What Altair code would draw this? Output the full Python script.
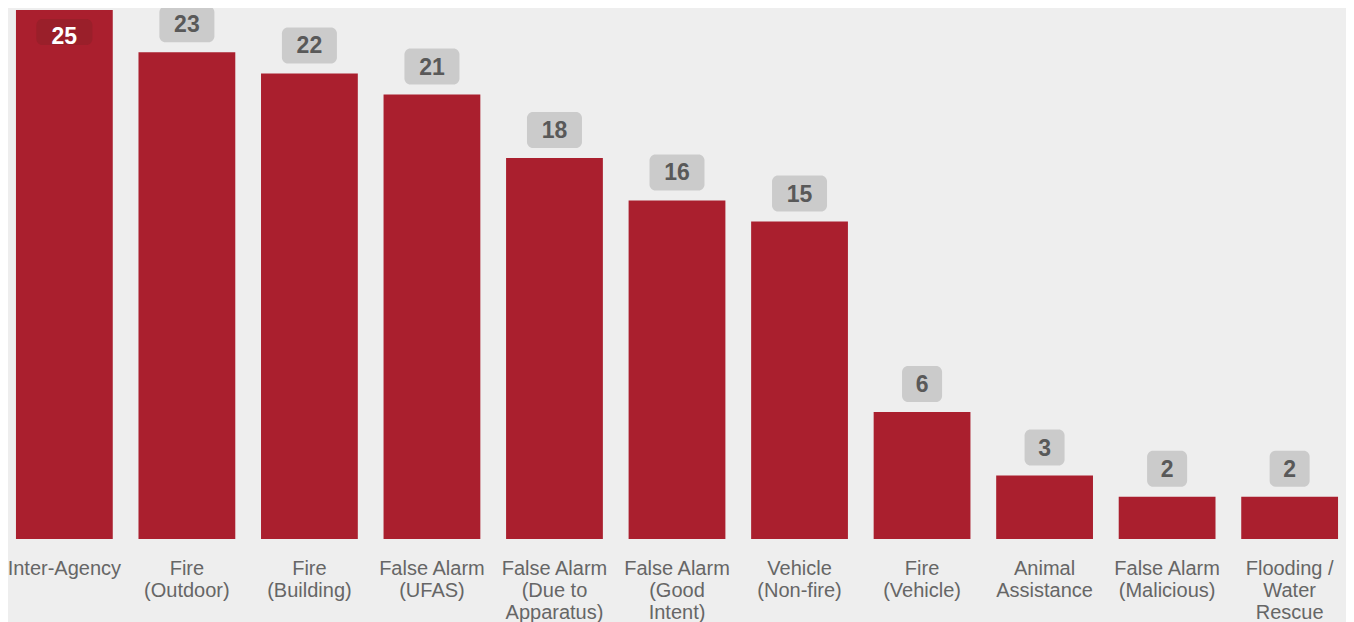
import altair as alt
import pandas as pd

categories = ["Inter-Agency", "Fire|(Outdoor)", "Fire|(Building)", "False Alarm|(UFAS)",
              "False Alarm|(Due to|Apparatus)", "False Alarm|(Good|Intent)", "Vehicle|(Non-fire)",
              "Fire|(Vehicle)", "Animal|Assistance", "False Alarm|(Malicious)", "Flooding /|Water|Rescue"]
values = [25, 23, 22, 21, 18, 16, 15, 6, 3, 2, 2]

df = pd.DataFrame({"cat": categories, "value": values, "idx": list(range(len(values)))})

FONT = "Liberation Sans"
x = alt.X("cat:N", sort=categories, title=None,
          scale=alt.Scale(paddingInner=0.21, paddingOuter=0.065),
          axis=alt.Axis(labelAngle=0, labelExpr="split(datum.label, '|')", labelFont=FONT,
                        labelFontSize=20, labelColor="#666666", labelLineHeight=22,
                        labelPadding=19, ticks=False, domain=False, labelBaseline="top"))
y = alt.Y("value:Q", title=None, scale=alt.Scale(domain=[0, 25.09], nice=False), axis=None)

base = alt.Chart(df)
bars = base.mark_bar(color="#aa1f2e").encode(x=x, y=y)

rest = base.transform_filter("datum.idx > 0")
two = rest.transform_filter("datum.value >= 10")
one = rest.transform_filter("datum.value < 10")
box2 = two.mark_rect(width=55, height=36, yOffset=-28, cornerRadius=6, color="#cbcbcb").encode(x=x, y=y)
box1 = one.mark_rect(width=40, height=36, yOffset=-28, cornerRadius=6, color="#cbcbcb").encode(x=x, y=y)
txt = rest.mark_text(font=FONT, fontSize=23, fontWeight="bold", color="#595959", baseline="middle", dy=-27).encode(
    x=x, y=y, text="value:Q")

first = base.transform_filter("datum.idx == 0")
fbox = first.mark_rect(width=56, height=26, yOffset=22, cornerRadius=6, color="#9a1f2a").encode(x=x, y=y)
ftxt = first.mark_text(font=FONT, fontSize=23, fontWeight="bold", color="#ffffff", baseline="middle", dy=27).encode(
    x=x, y=y, text="value:Q")

chart = alt.layer(bars, box2, box1, txt, fbox, ftxt).properties(
    width=1338, height=531,
    autosize=alt.AutoSizeParams(type="none"),
    padding={"left": 0, "top": 0, "right": 0, "bottom": 83},
    background="#eeeeee",
).configure_view(stroke=None)

chart.save("out.html", embed_options={"renderer": "svg", "actions": False})
